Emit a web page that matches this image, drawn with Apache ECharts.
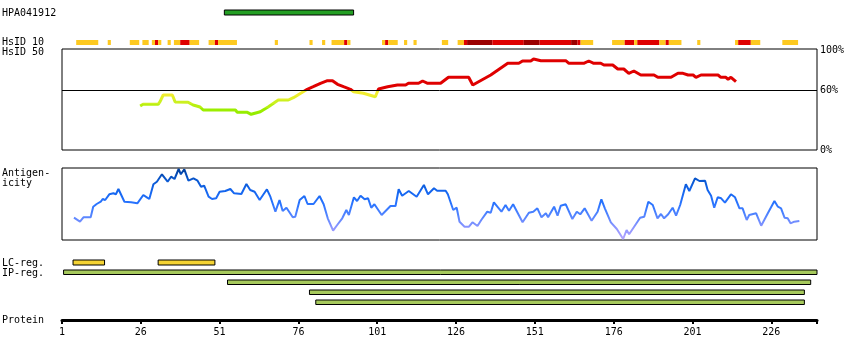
<!DOCTYPE html>
<html><head><meta charset="utf-8">
<script src="https://cdn.jsdelivr.net/npm/echarts@6/dist/echarts.min.js"></script>
<style>html,body{margin:0;padding:0;background:#fff}#c{width:850px;height:360px}</style>
</head><body><div id="c"></div>
<script>
// ---------------- data ----------------
const proteinLength = 240;
const axisTickLabels = [1, 26, 51, 76, 101, 126, 151, 176, 201, 226];
const identityTicks = [0, 60, 100];
const identityThreshold = 60;
const antigenName = 'HPA041912';
const antigenRegion = [[53, 93]];
// HsID 10 blocks: [firstResidue, lastResidue, level] (1 = low, 2 = high, 3 = highest)
const hsid10Blocks = [
  [6,12,1],[16,16,1],[23,25,1],[27,28,1],[30,30,1],[31,31,2],[32,32,1],[35,35,1],
  [37,38,1],[39,41,2],[42,44,1],[48,49,1],[50,50,2],[51,56,1],[69,69,1],[80,80,1],
  [84,84,1],[87,90,1],[91,91,2],[92,92,1],[103,103,1],[104,104,2],[105,107,1],
  [110,110,1],[113,113,1],[122,123,1],[127,128,1],[129,129,2],[130,137,3],[138,147,2],
  [148,152,3],[153,162,2],[163,164,3],[165,165,2],[166,169,1],[176,179,1],[180,182,2],
  [183,183,1],[184,190,2],[191,192,1],[193,193,2],[194,197,1],[203,203,1],[215,215,1],
  [216,219,2],[220,222,1],[230,234,1]
];
// HsID 50 identity (%) along the sequence: [residue, percent]
const hsid50 = [
  [25.8,44],[26.7,45.7],[31.5,45.7],[32.1,48.3],[33.1,55],[36,55],[36.9,48],[37.5,47.7],
  [41,47.7],[42.6,45],[44.8,43],[45.8,40],[56,40],[56.6,37.7],[59.8,37.7],[61,35.7],
  [63.9,38.3],[66.5,43.3],[69.6,50],[72.8,50],[74.4,52.3],[78.8,60.7],[80.7,63.3],
  [83,66.7],[85.2,69.3],[86.8,69.3],[88.4,65.7],[90.3,63.3],[92.5,60.7],[93.5,58.3],
  [96.6,56.7],[100.4,53.3],[101.4,61],[104.3,63.3],[107.4,65],[110,65],[110.9,66.7],
  [114.1,66.7],[115.4,69],[117,66.7],[121.1,66.7],[123.6,72.7],[130,72.7],[131.3,65],
  [137,75],[142.4,86.7],[145.9,86.7],[147.1,89],[149.7,89],[150.6,91],[152.9,89.3],
  [160.8,89.3],[161.8,86.7],[166.5,86.7],[168.1,89],[169.7,86.7],[171.9,86.7],[172.9,85],
  [175.7,85],[177.3,81],[179.2,81],[180.8,76.7],[182.4,79],[184.6,75],[188.8,75],
  [190,72.7],[194.2,72.7],[196.4,76.7],[198,76.7],[199.6,75],[201.2,75],[202.1,72.7],
  [203.7,75],[209.1,75],[210,72.7],[211.6,72.7],[212.3,70.7],[213.2,72.7],[214.8,68.3]
];
// Antigenicity score: [residue, score]
const antigenicity = [
  [4.8,22.3],[6.7,18.3],[7.8,22.7],[10.1,22.7],[10.9,33.3],[12,36],[13.3,38.3],[13.9,41],
  [14.7,40],[16,45.7],[17.3,46.7],[18.1,45.7],[18.9,51],[20.8,38.3],[22.9,37.7],[24.9,36.7],
  [26.8,45],[27.9,42.7],[28.7,41],[30,55.7],[31.1,58.3],[32.7,65.7],[34.5,58.3],[35.6,63.3],
  [36.7,61],[38,71],[38.7,65.7],[39.8,70.7],[41.1,59.3],[42.7,61.7],[44,59.3],[45.1,53.3],
  [46.1,54.3],[47.5,43.3],[48.6,41],[49.9,41.7],[51,48.3],[52.8,49],[54.4,51],[55.6,46.7],
  [57.9,46],[59.5,56],[60.7,50],[62.1,48.3],[63.7,40],[66,50.7],[67.1,43.3],[68.7,28.3],
  [70,40],[71,29],[72.2,32.3],[74.2,22.7],[75,23.3],[76.4,40],[77.9,44],[78.9,36],
  [80.8,36],[82.7,44],[84,35.7],[85.3,21.7],[87,9.3],[88.3,15],[89.9,21.7],[91.2,30],
  [92,25],[93.6,42.7],[94.6,39],[95.7,44.3],[97,40.7],[98.1,41.7],[99.1,32.3],[100.1,35.7],
  [102.4,25],[105.2,34],[106.8,34],[107.8,50.7],[108.9,44.3],[111,49],[113.5,43.3],[115.8,55],
  [117.1,45.7],[119,51.7],[120,49.3],[122.7,49.3],[123.4,45.7],[125.1,30],[126.2,32.3],[127.1,18.3],
  [128.7,13.3],[130.1,13.3],[131.2,17.7],[132.8,14],[134,20],[135.9,28.3],[137,27.3],[138,37.7],
  [140.4,28.3],[141.7,35],[142.8,29.3],[144.1,35.7],[147.1,17.7],[149.1,27.3],[150.5,28.3],[151.8,31.7],
  [153.1,22.7],[154.5,26.7],[155.2,22.7],[157.1,33.3],[158.2,24.3],[159.2,34.3],[160.8,35.7],[162.9,21],
  [164.3,28.3],[165.4,25.7],[166.8,31.7],[169,19.3],[170.9,28.3],[172.1,40.7],[173.2,31.7],[175.1,17.7],
  [177,11],[179,1],[180.1,10],[180.9,5.7],[182.5,13.3],[184.4,22.3],[185.7,23.3],[187,38.3],
  [188.4,35],[189.9,21.7],[191,26],[192,21.7],[193.3,25.7],[194.7,32.3],[195.8,24.3],[197.1,35],
  [198.9,55.7],[200,49],[201.8,61.7],[203.2,59],[205,59.3],[205.8,50],[206.9,44.3],[207.9,32.3],
  [209,42.7],[210.1,41.7],[211.3,37.3],[213.2,45.7],[214.5,42.7],[215.9,31.7],[216.9,31.7],[218.2,20],
  [219,25],[221.2,26.7],[222.8,14.3],[224.9,26.7],[227,39],[228.1,33.3],[229.1,31.7],[230.2,22.3],
  [231.2,21.7],[232.1,16.7],[233.3,18.3],[234.9,19]
];
const lcRegions = [[5,14],[32,49]];
const ipRegions = [[2,240],[54,238],[80,236],[82,236]];

// ---------------- styles ----------------
const FONT = '"DejaVu Sans Mono", "Liberation Mono", monospace';
const XMIN = 1, XMAX = proteinLength + 0.5;
const hsid10Colors = {1: '#fdc920', 2: '#df0000', 3: '#9b0000'};

const chart = echarts.init(document.getElementById('c'), null, {renderer: 'canvas'});

const gridDefs = [
  {top: 10, height: 5},     // 0 antigen
  {top: 40, height: 5},     // 1 HsID 10
  {top: 49, height: 101, show: true, borderColor: '#000', borderWidth: 1}, // 2 HsID 50
  {top: 168, height: 72, show: true, borderColor: '#000', borderWidth: 1}, // 3 antigenicity
  {top: 260, height: 5},    // 4 LC-reg
  {top: 270, height: 40},   // 5 IP-reg
  {top: 300, height: 20}    // 6 protein axis
];
const grids = gridDefs.map(g => Object.assign({left: 62, width: 755, outerBoundsMode: 'none', containLabel: false}, g));

const xAxes = grids.map((g, i) => ({
  gridIndex: i, type: 'value', min: XMIN, max: XMAX, show: i === 6,
  axisLine: {show: i === 6, onZero: false, lineStyle: {color: '#000', width: 3}},
  axisTick: {show: i === 6, customValues: axisTickLabels.concat([XMAX]), length: 4, lineStyle: {color: '#000', width: 2}},
  axisLabel: {show: i === 6, customValues: axisTickLabels, color: '#000', fontFamily: FONT, fontSize: 10, margin: 7},
  splitLine: {show: false}
}));

const yAxes = [
  {gridIndex: 0, type: 'value', min: 0, max: 1, show: false},
  {gridIndex: 1, type: 'value', min: 0, max: 1, show: false},
  {gridIndex: 2, type: 'value', min: 0, max: 101, position: 'right',
    axisLine: {show: false}, axisTick: {show: false}, splitLine: {show: false},
    axisLabel: {customValues: identityTicks, formatter: v => v + '%', color: '#000', fontFamily: FONT, fontSize: 10, margin: 3}},
  {gridIndex: 3, type: 'value', min: 0, max: 72, show: false},
  {gridIndex: 4, type: 'value', min: 0, max: 1, show: false},
  {gridIndex: 5, type: 'value', min: 0, max: ipRegions.length, inverse: true, show: false},
  {gridIndex: 6, type: 'value', min: 0, max: 1, show: false}
];

function spanRect(fillFn, laneFn) {
  return function (params, api) {
    const lane = laneFn ? laneFn(params.dataIndex) : null;
    const y0 = lane === null ? 1 : lane;
    const y1 = lane === null ? 0 : lane + 0.45;
    const a = api.coord([api.value(0) - 0.5, y0]);
    const b = api.coord([api.value(1) + 0.5, y1]);
    return {
      type: 'rect',
      shape: {x: a[0], y: Math.min(a[1], b[1]), width: b[0] - a[0], height: Math.abs(b[1] - a[1])},
      style: {fill: fillFn(api), stroke: '#000', lineWidth: 1}
    };
  };
}

const option = {
  animation: false,
  backgroundColor: '#fff',
  grid: grids,
  xAxis: xAxes,
  yAxis: yAxes,
  visualMap: [
    {type: 'piecewise', show: false, seriesIndex: 2, dimension: 1,
      pieces: [
        {lt: 38, color: '#94ec00'},
        {gte: 38, lt: 42, color: '#9cee00'},
        {gte: 42, lt: 46, color: '#b8f010'},
        {gte: 46, lt: 50, color: '#ccf020'},
        {gte: 50, lt: 54, color: '#e2f028'},
        {gte: 54, lt: 60, color: '#f0ec30'},
        {gte: 60, color: '#df0000'}
      ]},
    {type: 'continuous', show: false, seriesIndex: 3, dimension: 1, min: 0, max: 72,
      inRange: {color: ['#b4a4ff', '#8e96ff', '#5585ff', '#2a74ff', '#1466f0', '#0a58d0', '#003c96']}}
  ],
  series: [
    {type: 'custom', xAxisIndex: 0, yAxisIndex: 0, data: antigenRegion, silent: true,
      renderItem: spanRect(() => '#249f24')},
    {type: 'custom', xAxisIndex: 1, yAxisIndex: 1, data: hsid10Blocks, silent: true,
      renderItem: function (params, api) {
        const a = api.coord([api.value(0) - 0.5, 1]);
        const b = api.coord([api.value(1) + 0.5, 0]);
        return {type: 'rect', shape: {x: a[0], y: a[1], width: b[0] - a[0], height: b[1] - a[1]},
          style: {fill: hsid10Colors[api.value(2)]}};
      }},
    {type: 'line', xAxisIndex: 2, yAxisIndex: 2, data: hsid50, symbol: 'none', silent: true,
      lineStyle: {width: 3},
      markLine: {silent: true, symbol: 'none', label: {show: false},
        lineStyle: {color: '#000', width: 1, type: 'solid'},
        data: [{yAxis: identityThreshold}]}},
    {type: 'line', xAxisIndex: 3, yAxisIndex: 3, data: antigenicity, symbol: 'none', silent: true,
      lineStyle: {width: 2}},
    {type: 'custom', xAxisIndex: 4, yAxisIndex: 4, data: lcRegions, silent: true,
      renderItem: spanRect(() => '#f4d334')},
    {type: 'custom', xAxisIndex: 5, yAxisIndex: 5, data: ipRegions, silent: true,
      renderItem: spanRect(() => '#a6c95c', i => i)}
  ],
  graphic: [
    ['' + antigenName, 13], ['HsID 10', 42.5], ['HsID 50', 52.5], ['Antigen-', 173.5],
    ['icity', 183.5], ['LC-reg.', 263], ['IP-reg.', 273], ['Protein', 320]
  ].map(([t, y]) => ({type: 'text', x: 2, y: y, silent: true,
    style: {text: t, fill: '#000', font: '10px ' + FONT, verticalAlign: 'middle', textVerticalAlign: 'middle'}}))
};
chart.setOption(option);
</script>
</body></html>
